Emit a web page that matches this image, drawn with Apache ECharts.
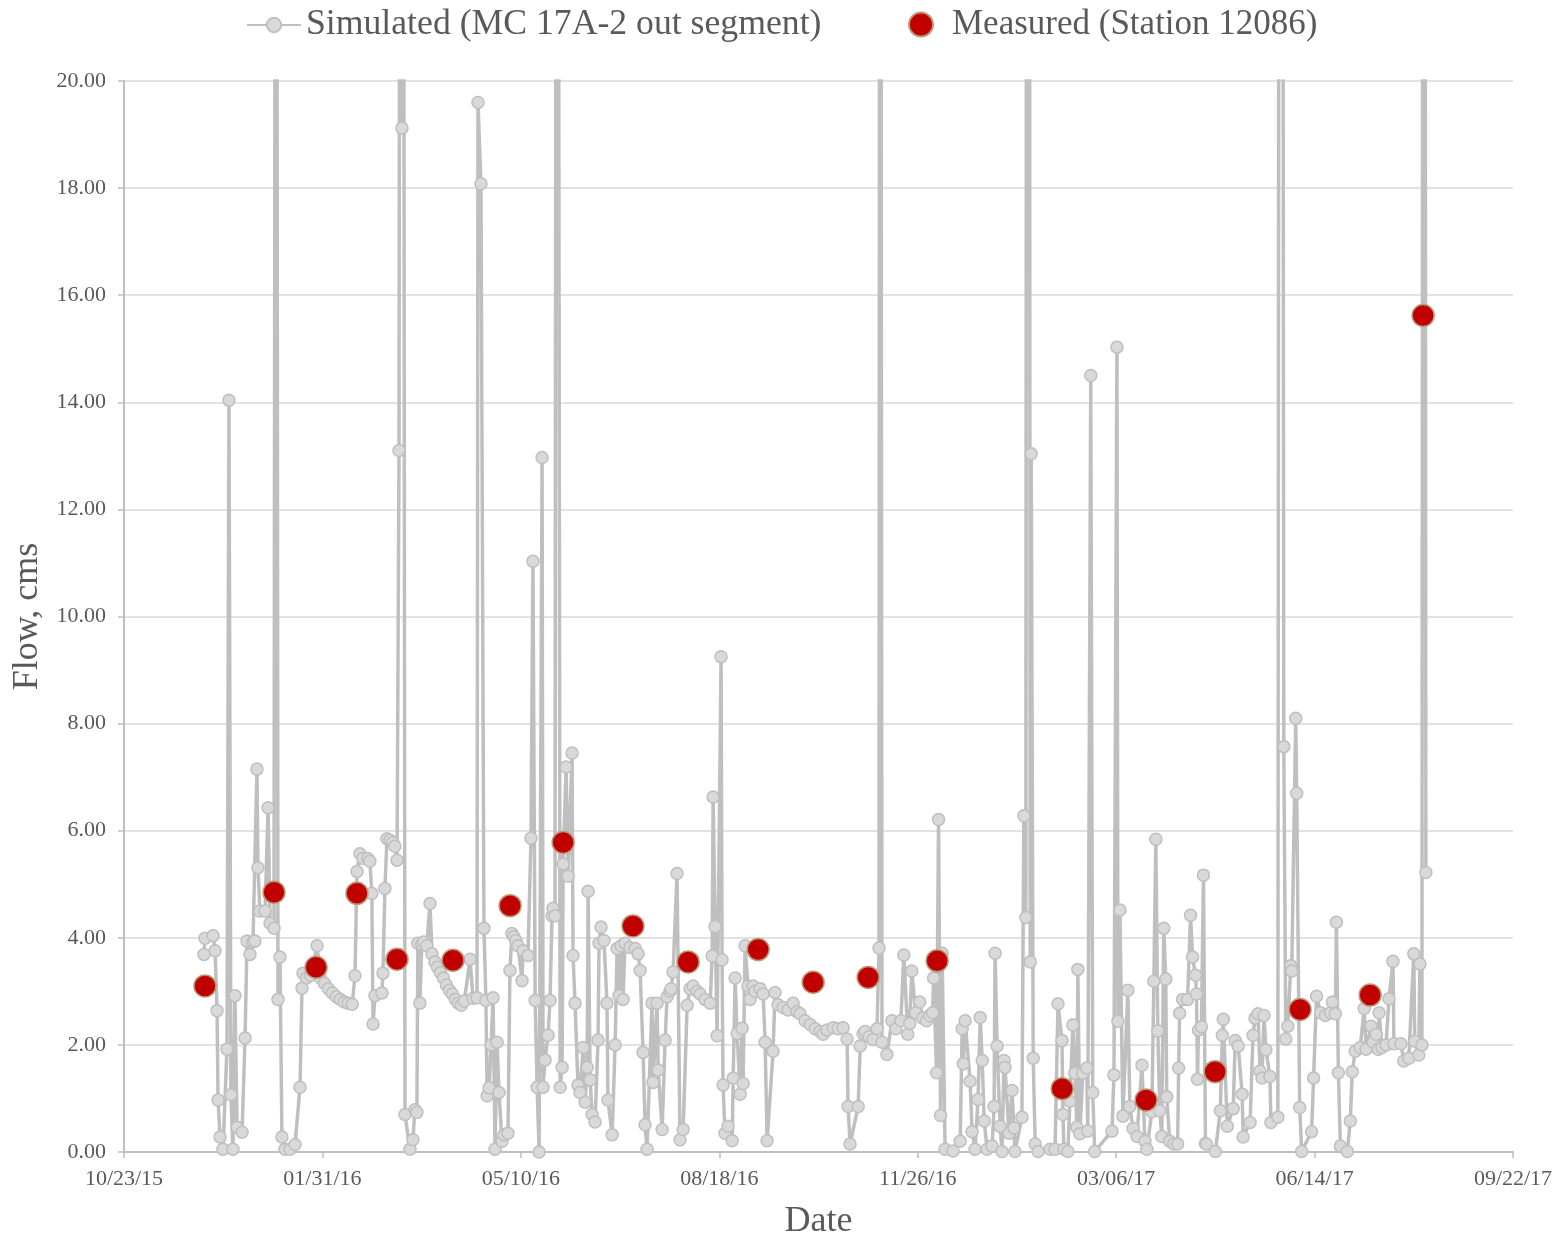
<!DOCTYPE html>
<html><head><meta charset="utf-8">
<script src="https://cdn.jsdelivr.net/npm/echarts@6/dist/echarts.min.js"></script>
<style>html,body{margin:0;padding:0;background:#fff}#c{width:1562px;height:1239px}</style>
</head><body><div id="c"></div><script>
// x values are days since 10/23/15
const xTickLabels = ['10/23/15','01/31/16','05/10/16','08/18/16','11/26/16','03/06/17','06/14/17','09/22/17'];
const simName = 'Simulated (MC 17A-2 out segment)';
const measName = 'Measured (Station 12086)';

// Simulated flow [day, cms]
const simulated = [[40.3,3.69],[40.8,3.99],[44.9,4.04],[45.9,3.76],[46.9,2.64],[47.4,0.97],[48.4,0.28],[49.9,0.05],[51.9,1.92],[52.9,14.04],[53.9,1.07],[54.9,0.05],[55.9,2.92],[57.0,0.46],[59.5,0.37],[61.0,2.13],[62.0,3.94],[63.5,3.69],[65.0,3.92],[66.0,3.94],[67.0,7.15],[67.5,5.31],[68.5,4.50],[71.1,4.50],[72.6,6.43],[73.6,4.27],[75.6,4.18],[76.6,40],[77.6,2.85],[78.6,3.64],[79.6,0.28],[81.1,0.05],[83.7,0.05],[86.2,0.14],[88.7,1.21],[89.7,3.06],[90.2,3.34],[92.0,3.25],[94.0,3.30],[97.3,3.85],[99,3.25],[101,3.15],[103,3.05],[105,2.97],[107,2.9],[109,2.85],[111,2.8],[113,2.78],[115,2.76],[116.4,3.29],[117.4,5.24],[118.9,5.57],[120.4,5.48],[122.9,5.48],[123.9,5.43],[124.9,4.83],[125.5,2.39],[126.5,2.92],[130,2.97],[130.5,3.34],[131.5,4.92],[132.5,5.85],[134,5.82],[135.5,5.78],[136.5,5.71],[137.6,5.45],[138.6,13.1],[139.3,40],[140.1,19.12],[140.8,30],[141.6,0.70],[144.1,0.05],[145.6,0.23],[146.6,0.79],[147.6,0.74],[148.1,3.90],[149.1,2.78],[150.1,3.88],[151.1,3.92],[152.6,3.85],[154.2,4.64],[155.2,3.7],[156.7,3.55],[158,3.45],[159.5,3.35],[161,3.25],[162.5,3.12],[164,3.02],[165.5,2.95],[167,2.85],[168.5,2.78],[170,2.74],[171.5,2.82],[174.4,3.6],[175.9,2.87],[177.9,2.88],[178.4,19.6],[179.9,18.08],[181.4,4.18],[182.4,2.83],[183,1.05],[184,1.2],[185,2.0],[186,2.88],[187,0.05],[188,2.05],[189,1.11],[190.5,0.2],[191.5,0.32],[193.5,0.35],[194.5,3.39],[195.5,4.08],[196.5,4.02],[197.5,3.95],[198.5,3.85],[200.6,3.2],[201.1,3.76],[203.6,3.67],[205.1,5.86],[206.1,11.03],[207.2,2.83],[208.2,1.21],[209.2,0.0],[210.7,12.97],[211.2,1.21],[212.2,1.72],[213.7,2.18],[214.7,2.83],[215.7,4.41],[216.2,4.55],[217.2,4.41],[218.2,45],[219.8,1.21],[220.8,1.58],[221.3,5.38],[222.8,7.19],[223.8,5.15],[225.8,7.45],[226.3,3.67],[227.3,2.78],[228.8,1.25],[229.8,1.11],[231.4,1.95],[232.4,0.93],[233.4,1.58],[233.9,4.87],[234.9,1.35],[235.9,0.70],[237.4,0.56],[238.9,2.09],[239.4,3.90],[240.4,4.20],[241.9,3.95],[243.4,2.78],[243.9,0.97],[246.0,0.32],[247.5,2.00],[248.5,3.80],[249.5,2.92],[250.5,3.85],[251.5,2.85],[252.5,3.90],[255,3.82],[257.6,3.80],[259.1,3.70],[260.1,3.39],[261.6,1.86],[262.6,0.51],[263.6,0.05],[266.1,2.78],[266.6,1.30],[268.6,2.78],[269.2,1.53],[271.2,0.42],[272.7,2.09],[273.7,2.90],[275.2,3.00],[275.7,3.05],[276.7,3.36],[278.7,5.2],[280.2,0.23],[281.8,0.42],[283.8,2.74],[285.3,3.05],[286.8,3.10],[288.8,3.0],[290.3,2.95],[292.8,2.85],[295.4,2.78],[296.4,3.66],[296.9,6.63],[297.9,4.21],[298.9,2.17],[300.9,9.25],[301.4,3.59],[301.9,1.25],[302.9,0.35],[304.4,0.48],[306.5,0.21],[307,1.38],[308,3.25],[309,2.21],[310.5,1.08],[311.5,2.31],[312,1.28],[313,3.85],[314.5,3.10],[315.5,2.85],[317,3.1],[318,3.0],[320.6,3.05],[322.1,2.95],[323.1,2.05],[324.1,0.21],[327.1,1.88],[328.1,2.98],[329.6,2.75],[332.2,2.70],[334.7,2.65],[337.2,2.78],[339.2,2.62],[340.7,2.58],[343.2,2.45],[345.8,2.38],[348.3,2.30],[350.8,2.25],[352.3,2.2],[354.3,2.28],[357.4,2.32],[359.9,2.3],[362.4,2.32],[364.4,2.11],[364.9,0.85],[365.9,0.15],[370,0.85],[371,1.98],[372.5,2.21],[373.5,2.25],[375.5,2.15],[377.5,2.10],[379.5,2.30],[380.5,3.81],[381,45],[382,2.05],[384.5,1.82],[387,2.45],[389,2.3],[391.5,2.45],[393,3.68],[395,2.2],[396,2.4],[397,3.38],[399,2.6],[401,2.8],[402.5,2.5],[404.5,2.45],[406,2.55],[407.5,2.6],[408,3.25],[409.5,1.48],[410.5,6.21],[411.5,0.68],[412.3,3.71],[413.8,0.05],[417.8,0.02],[421.4,0.2],[422.4,2.3],[423,1.65],[423.9,2.45],[426.4,1.32],[427.4,0.38],[428.9,0.05],[430.4,0.98],[431.5,2.51],[432.5,1.71],[433.5,0.58],[435,0.05],[437.5,0.11],[438.5,0.85],[439,3.71],[440,1.98],[441.5,0.48],[442.5,0.01],[443.5,1.71],[444,1.58],[446,0.35],[447.5,1.15],[448.5,0.45],[449,0.01],[452.5,0.65],[453.5,6.28],[454.5,4.38],[455.2,50],[456,45],[456.7,3.55],[457.2,13.04],[458.2,1.75],[459.2,0.15],[460.7,0.01],[466.7,0.05],[469.2,0.05],[470.7,2.77],[472.7,2.08],[473.2,0.70],[473.7,0.05],[475.7,0.01],[476.7,0.95],[478.2,2.37],[479.2,1.47],[480.2,0.46],[480.7,3.41],[481.7,0.34],[483.2,1.47],[485.2,1.57],[485.7,0.39],[487.2,14.5],[488.2,1.11],[489.2,0.01],[497.9,0.39],[498.9,1.44],[500.4,15.03],[500.9,2.44],[501.9,4.52],[503.4,0.67],[505.9,3.02],[506.9,0.85],[508.5,0.44],[510.5,0.29],[513,1.62],[514.5,0.2],[515.5,0.05],[518,0.75],[519,3.19],[520,5.84],[521,2.26],[522,0.77],[523,0.29],[524,4.18],[525,3.23],[525.5,1.03],[527,0.2],[529,0.15],[531,0.15],[531.5,1.57],[532,2.59],[533.5,2.85],[536,2.85],[537.5,4.42],[538.5,3.64],[540,3.3],[540.5,2.95],[541,1.36],[541.5,2.28],[543,2.34],[544,5.17],[545,0.16],[545.5,0.15],[550,0.01],[552.5,0.77],[553.5,2.18],[554,2.48],[556,0.48],[559,0.81],[560,2.08],[561.5,1.98],[563.5,1.08],[564,0.28],[567.5,0.55],[569,2.18],[570,2.5],[571.5,2.58],[572.5,1.51],[573.5,1.38],[574.5,2.55],[575.5,1.91],[577.5,1.41],[578,0.55],[581.5,0.65],[582.5,50],[583.5,45],[584.5,7.57],[585.5,2.11],[586.5,2.35],[588,3.48],[588.5,3.38],[590.5,8.1],[591,6.7],[592.5,0.83],[593.5,0.01],[598.5,0.38],[599.5,1.38],[601,2.91],[603,2.6],[605.5,2.55],[608,2.6],[609,2.8],[610.5,2.58],[611,4.29],[612,1.48],[613,0.11],[616.5,0.01],[618,0.58],[619,1.5],[620.5,1.88],[623,1.95],[625,2.68],[626,1.92],[628.5,2.35],[629.5,2.05],[631,2.2],[632,1.92],[632.5,2.6],[634,1.95],[636,2.0],[637.5,2.86],[639.5,3.56],[640,2.02],[643.5,2.02],[645,1.7],[647.5,1.75],[650,3.7],[650.5,2.07],[652.5,1.81],[653.1,3.51],[654.1,2.0],[655.1,60],[656.1,5.22]];

// Measured flow
const measDay  = [40.8, 75.6, 96.8, 117.4, 137.6, 165.8, 194.6, 221.3, 256.5, 284.3, 319.6, 347.3, 375.0, 409.8, 472.8, 515.1, 549.9, 592.7, 628.0, 654.7];
const measFlow = [3.10, 4.85, 3.45, 4.83, 3.60, 3.58, 4.60, 5.78, 4.22, 3.55, 3.78, 3.17, 3.26, 3.57, 1.18, 0.97, 1.50, 2.66, 2.93, 15.62];

const FONT = '"Liberation Serif","Times New Roman",serif';
const TXT = '#595959';
const chart = echarts.init(document.getElementById('c'));
chart.setOption({
  animation: false,
  backgroundColor: '#ffffff',
  grid: {left: 124, right: 49, top: 81, bottom: 87, containLabel: false, outerBoundsMode: 'none'},
  legend: [
    {data: [simName], left: 241, top: 2, itemWidth: 54, itemHeight: 18,
     textStyle: {fontSize: 35.7, color: TXT, fontFamily: FONT}},
    {data: [measName], left: 903, top: 2, itemWidth: 24, itemHeight: 24,
     textStyle: {fontSize: 35, color: TXT, fontFamily: FONT, padding: [0, 0, 0, 14]}}
  ],
  xAxis: {
    type: 'value', min: 0, max: 700, interval: 100,
    axisLine: {show: true, lineStyle: {color: '#bfbfbf', width: 2}},
    axisTick: {show: true, length: 6, lineStyle: {color: '#bfbfbf', width: 1.5}},
    splitLine: {show: false},
    axisLabel: {formatter: v => xTickLabels[Math.round(v / 100)], color: TXT, fontSize: 22, fontFamily: FONT, margin: 16},
    name: 'Date', nameLocation: 'middle', nameGap: 52,
    nameTextStyle: {fontSize: 36, color: TXT, fontFamily: FONT}
  },
  yAxis: {
    type: 'value', min: 0, max: 20, interval: 2,
    axisLine: {show: true, lineStyle: {color: '#bfbfbf', width: 2}},
    axisTick: {show: true, length: 6, lineStyle: {color: '#bfbfbf', width: 1.5}},
    splitLine: {show: true, lineStyle: {color: '#d9d9d9', width: 1.5}},
    axisLabel: {formatter: v => v.toFixed(2), color: TXT, fontSize: 22, fontFamily: FONT, margin: 18},
    name: 'Flow, cms', nameLocation: 'middle', nameGap: 76,
    nameTextStyle: {fontSize: 36, color: TXT, fontFamily: FONT}
  },
  series: [
    {
      name: simName, type: 'line', data: simulated, clip: true, z: 2,
      symbol: 'circle', symbolSize: 12, showSymbol: true, showAllSymbol: true,
      lineStyle: {color: '#bfbfbf', width: 3.5},
      itemStyle: {color: '#d9d9d9', borderColor: '#bfbfbf', borderWidth: 1.5}
    },
    {
      name: measName, type: 'scatter', z: 3,
      data: measDay.map((d, i) => [d, measFlow[i]]),
      symbol: 'circle', symbolSize: 22,
      itemStyle: {color: '#c00000', borderColor: '#b89c7c', borderWidth: 1.5, opacity: 1}
    }
  ]
});
</script></body></html>
